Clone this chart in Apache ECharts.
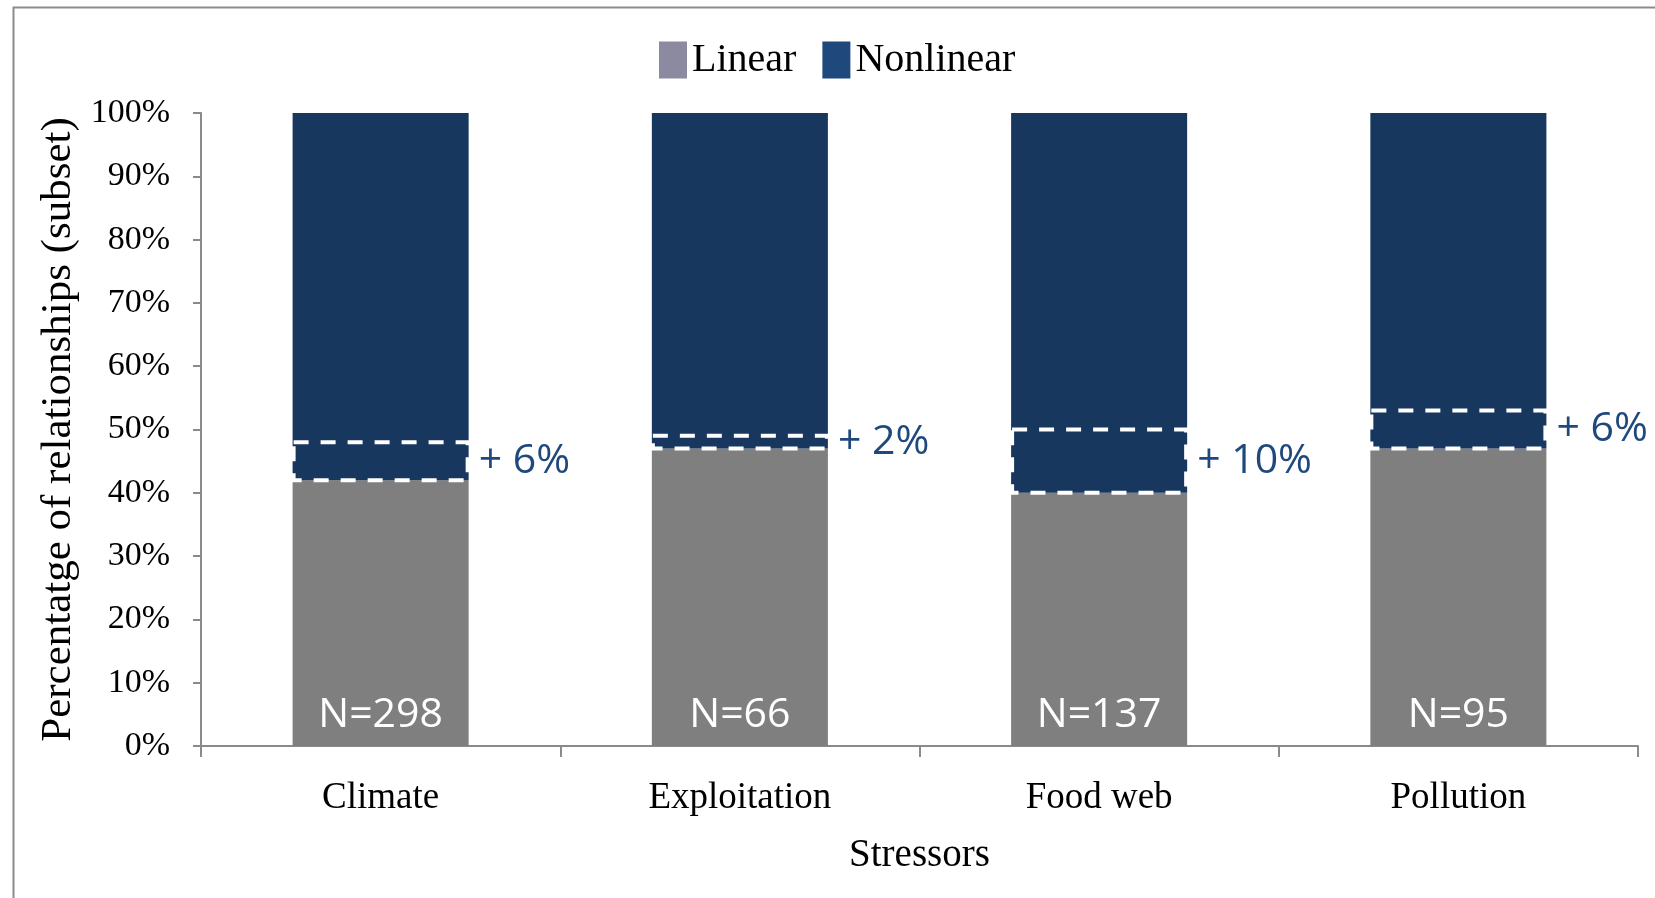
<!DOCTYPE html>
<html>
<head>
<meta charset="utf-8">
<title>Linear vs nonlinear relationships by stressor</title>
<script src="https://cdn.jsdelivr.net/npm/echarts@6/dist/echarts.min.js"></script>
<style>
  html, body { margin: 0; padding: 0; background: #fff; }
  #chart { width: 1655px; height: 898px; }
</style>
</head>
<body>
<div id="chart"></div>
<script>
// Stressor categories and the share of relationships of each type (percent)
const categories = ['Climate', 'Exploitation', 'Food web', 'Pollution'];
const linearPct = [42, 47, 40, 47];
const nonlinearPct = [58, 53, 60, 53];
// Extra share that shifts with the subset (dashed boxes above the linear part)
const shiftPct = [6, 2, 10, 6];
// Number of relationships per stressor
const sampleSizes = [298, 66, 137, 95];
const yTickStep = 10;

const serif = '"Liberation Serif", "Times New Roman", serif';
const sans = '"Open Sans", "Noto Sans", sans-serif';
const axisGray = '#8a8a8a';
const barWidthFraction = 0.49;

const shiftData = categories.map((c, i) => [i, linearPct[i], linearPct[i] + shiftPct[i], shiftPct[i]]);

const chart = echarts.init(document.getElementById('chart'), null, { renderer: 'canvas' });

chart.setOption({
  backgroundColor: '#ffffff',
  animation: false,
  graphic: [{
    type: 'rect',
    left: 11, top: 5,
    shape: { width: 1700, height: 1000 },
    style: { fill: 'none', stroke: '#8c8c8c', lineWidth: 2 },
    silent: true
  }],
  legend: {
    left: 654,
    top: 35,
    itemWidth: 28,
    itemHeight: 37,
    itemGap: 26,
    icon: 'rect',
    textStyle: { fontFamily: serif, fontSize: 40, color: '#000', padding: [0, 0, 0, 0] },
    data: [
      { name: 'Linear', itemStyle: { color: '#8b8aa1' } },
      { name: 'Nonlinear', itemStyle: { color: '#1f497d' } }
    ]
  },
  grid: { left: 201, right: 17, top: 113, bottom: 152, containLabel: false },
  xAxis: {
    type: 'category',
    data: categories,
    name: 'Stressors',
    nameLocation: 'middle',
    nameGap: 90,
    nameTextStyle: { fontFamily: serif, fontSize: 39, color: '#000', verticalAlign: 'top' },
    axisLine: { lineStyle: { color: axisGray, width: 2 } },
    axisTick: { show: true, length: 11, alignWithLabel: false, lineStyle: { color: axisGray, width: 2 } },
    axisLabel: { fontFamily: serif, fontSize: 37, color: '#000', margin: 34 },
    splitLine: { show: false }
  },
  yAxis: {
    type: 'value',
    min: 0,
    max: 100,
    interval: yTickStep,
    name: 'Percentatge of relationships (subset)',
    nameLocation: 'middle',
    nameGap: 108,
    nameRotate: 90,
    nameTextStyle: { fontFamily: serif, fontSize: 43, color: '#000' },
    axisLine: { show: true, lineStyle: { color: axisGray, width: 2 } },
    axisTick: { show: true, length: 8, lineStyle: { color: axisGray, width: 2 } },
    axisLabel: { fontFamily: serif, fontSize: 34, color: '#000', margin: 31, padding: [6, 0, 0, 0], formatter: '{value}%' },
    splitLine: { show: false }
  },
  series: [
    {
      name: 'Linear',
      type: 'bar',
      stack: 'share',
      barWidth: (barWidthFraction * 100) + '%',
      data: linearPct,
      itemStyle: { color: '#7f7f7f' },
      label: {
        show: true,
        position: 'insideBottom',
        distance: 10,
        color: '#ffffff',
        fontFamily: sans,
        fontSize: 41,
        formatter: p => 'N=' + sampleSizes[p.dataIndex]
      },
      z: 2
    },
    {
      name: 'Nonlinear',
      type: 'bar',
      stack: 'share',
      barWidth: (barWidthFraction * 100) + '%',
      data: nonlinearPct,
      itemStyle: { color: '#17375e' },
      z: 2
    },
    {
      name: 'Shift',
      type: 'custom',
      data: shiftData,
      encode: { x: 0, y: [1, 2] },
      z: 5,
      silent: true,
      renderItem: function (params, api) {
        const idx = api.value(0);
        const low = api.coord([idx, api.value(1)]);
        const high = api.coord([idx, api.value(2)]);
        const w = api.size([1, 0])[0] * barWidthFraction;
        const x0 = low[0] - w / 2;
        return {
          type: 'group',
          children: [
            {
              type: 'rect',
              shape: { x: x0 + 1, y: high[1], width: w - 2, height: low[1] - high[1] },
              style: { fill: 'none', stroke: '#ffffff', lineWidth: 4, lineDash: [15, 12] }
            },
            {
              type: 'text',
              style: {
                text: '+ ' + api.value(3) + '%',
                x: x0 + w + 10,
                y: (low[1] + high[1]) / 2,
                align: 'left',
                verticalAlign: 'middle',
                fill: '#1f497d',
                font: '41px ' + sans
              }
            }
          ]
        };
      }
    }
  ]
});
</script>
</body>
</html>
